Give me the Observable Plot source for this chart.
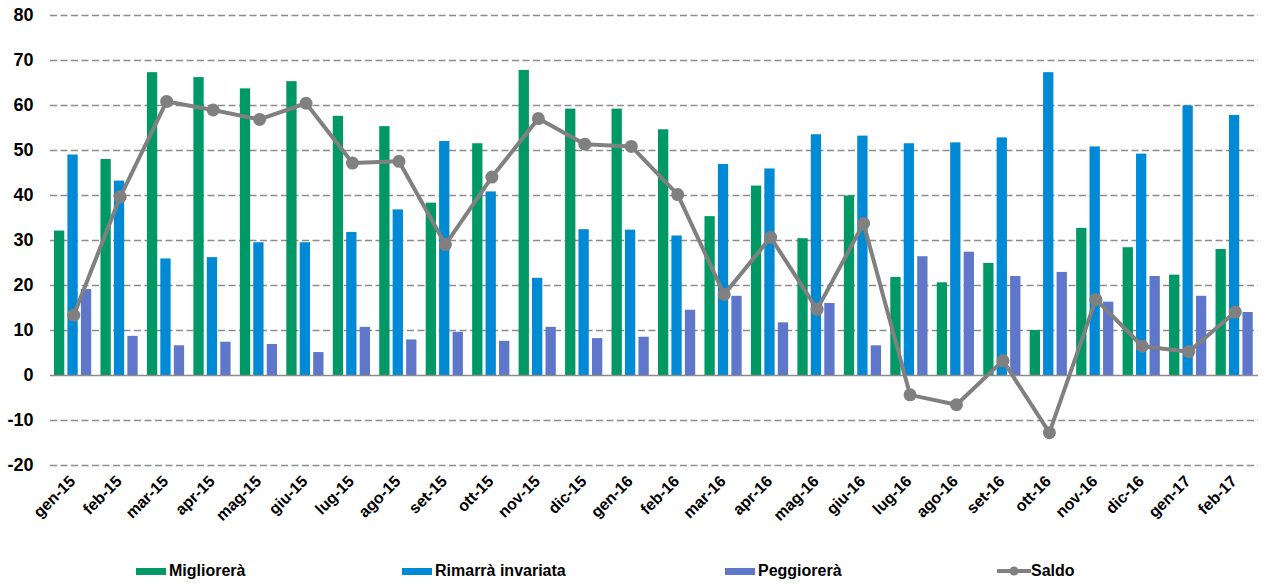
<!DOCTYPE html>
<html>
<head>
<meta charset="utf-8">
<script src="https://cdn.jsdelivr.net/npm/d3@7"></script>
<script src="https://cdn.jsdelivr.net/npm/@observablehq/plot@0.6"></script>
<style>
  html, body { margin: 0; padding: 0; background: #fff; }
  #wrap { position: relative; width: 1261px; height: 588px; font-family: "Liberation Sans", Arial, sans-serif; font-weight: bold; }
  .leg { position: absolute; top: 561px; height: 20px; display: flex; align-items: center; font-size: 16px; color: #000; white-space: nowrap; }
  .sw { display: inline-block; width: 30px; height: 7px; margin-right: 3px; }
</style>
</head>
<body>
<div id="wrap"></div>
<script>
const months = ["gen-15","feb-15","mar-15","apr-15","mag-15","giu-15","lug-15","ago-15","set-15","ott-15","nov-15","dic-15",
  "gen-16","feb-16","mar-16","apr-16","mag-16","giu-16","lug-16","ago-16","set-16","ott-16","nov-16","dic-16","gen-17","feb-17"];
const migliorera = [32.1, 48.0, 67.3, 66.2, 63.7, 65.3, 57.6, 55.3, 38.3, 51.5, 67.8, 59.2, 59.2, 54.6, 35.3, 42.1, 30.4, 39.9, 21.8, 20.6, 24.9, 10.0, 32.7, 28.4, 22.3, 28.0];
const rimarra = [49.0, 43.2, 25.9, 26.2, 29.5, 29.5, 31.8, 36.8, 52.0, 40.8, 21.6, 32.4, 32.3, 31.0, 46.9, 45.9, 53.5, 53.2, 51.5, 51.7, 52.8, 67.3, 50.8, 49.2, 59.9, 57.8];
const peggiorera = [19.1, 8.7, 6.6, 7.4, 6.9, 5.1, 10.7, 7.9, 9.6, 7.6, 10.7, 8.2, 8.5, 14.5, 17.6, 11.7, 16.0, 6.6, 26.4, 27.4, 22.0, 22.9, 16.3, 22.0, 17.6, 14.0];
const saldo = [13.4, 39.7, 60.9, 59.0, 56.9, 60.5, 47.2, 47.6, 29.1, 44.1, 57.1, 51.4, 50.9, 40.2, 18.0, 30.7, 14.7, 33.8, -4.3, -6.5, 3.3, -12.7, 16.9, 6.5, 5.3, 14.1];
const yTicks = [-20, -10, 0, 10, 20, 30, 40, 50, 60, 70, 80];
const seriesNames = ["Migliorerà", "Rimarrà invariata", "Peggiorerà", "Saldo"];
const colors = ["#009966", "#008AD6", "#5E77CA", "#808080"];

const rows = months.map((m, i) => ({month: m, mig: migliorera[i], rim: rimarra[i], peg: peggiorera[i], saldo: saldo[i]}));

const barW = 10.3;
const bw = (1261 - 50 - 3) / months.length;
function insets(left) { return {insetLeft: left, insetRight: bw - left - barW}; }

const chart = Plot.plot({
  width: 1261,
  height: 545,
  marginTop: 15,
  marginBottom: 80,
  marginLeft: 50,
  marginRight: 3,
  style: {fontFamily: "'Liberation Sans', Arial, sans-serif", fontWeight: "bold", color: "#000", background: "#fff"},
  x: {type: "band", domain: months, padding: 0, round: false, label: null},
  y: {domain: [-20, 80], label: null},
  marks: [
    Plot.ruleY(yTicks.filter(d => d !== 0), {stroke: "#8c8c8c", strokeWidth: 1.5, strokeDasharray: "7,3.5"}),
    Plot.barY(rows, {x: "month", y: "mig", fill: colors[0], ...insets(4)}),
    Plot.barY(rows, {x: "month", y: "rim", fill: colors[1], ...insets(17.4)}),
    Plot.barY(rows, {x: "month", y: "peg", fill: colors[2], ...insets(30.9)}),
    Plot.ruleY([0], {stroke: "#8c8c8c", strokeWidth: 1.5}),
    Plot.line(rows, {x: "month", y: "saldo", stroke: colors[3], strokeWidth: 4}),
    Plot.dot(rows, {x: "month", y: "saldo", r: 6.5, fill: colors[3], stroke: "none"}),
    Plot.axisY({ticks: yTicks, tickFormat: d => String(d), tickSize: 0, tickPadding: 17, fontSize: 18, fontWeight: "bold"}),
    Plot.axisX({tickSize: 0, tickPadding: 13, tickRotate: -45, fontSize: 16, fontWeight: "bold", dx: -1})
  ]
});
const wrap = document.getElementById("wrap");
wrap.appendChild(chart);

const legPos = [136, 402, 725, 997];
seriesNames.forEach((name, i) => {
  const d = document.createElement("div");
  d.className = "leg";
  d.style.left = legPos[i] + "px";
  if (i < 3) {
    d.innerHTML = `<span class="sw" style="background:${colors[i]}"></span>${name}`;
  } else {
    d.innerHTML = `<svg width="34" height="14" style="margin-right:0px"><line x1="1" x2="33" y1="7" y2="7" stroke="${colors[3]}" stroke-width="4" stroke-linecap="round"/><circle cx="17" cy="7" r="4.5" fill="${colors[3]}"/></svg>${name}`;
  }
  wrap.appendChild(d);
});
</script>
</body>
</html>
